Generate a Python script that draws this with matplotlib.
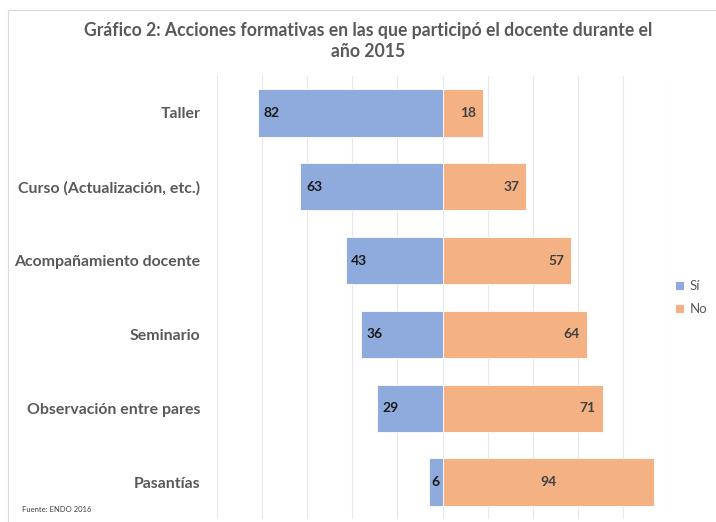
import matplotlib.pyplot as plt
from matplotlib.patches import Rectangle

# datos del grafico
categorias = ["Taller", "Curso (Actualización, etc.)", "Acompañamiento docente",
              "Seminario", "Observación entre pares", "Pasantías"]
si = [82, 63, 43, 36, 29, 6]
no = [18, 37, 57, 64, 71, 94]

azul = "#8FAADC"
naranja = "#F4B183"
gris = "#595959"

plt.rcParams['font.family'] = ['Lato', 'DejaVu Sans']

fig = plt.figure(figsize=(7.16, 5.22), dpi=100)

# marco del area del grafico
fig.patches.append(Rectangle((8 / 716, -0.01), 1.0, (522 - 10) / 522 + 0.01,
                             transform=fig.transFigure, fill=False,
                             edgecolor="#D9D9D9", lw=0.8))

ax = fig.add_axes([217 / 716, 3 / 522, 451 / 716, 443 / 522])

y = list(range(len(categorias)))
neg = [-v for v in si]
ax.barh(y, neg, height=0.64, color=azul, edgecolor="white", lw=0.6, label="Sí", zorder=2)
ax.barh(y, no, height=0.64, color=naranja, edgecolor="white", lw=0.6, label="No", zorder=2)

for i in y:
    # etiqueta Sí dentro de la barra, al extremo izquierdo
    if si[i] > 10:
        ax.text(neg[i] + 2.5, i, str(si[i]), ha="left", va="center",
                fontsize=10, fontweight="bold", color="#1A1A1A", zorder=3)
    else:
        ax.text(neg[i] / 2, i, str(si[i]), ha="center", va="center",
                fontsize=10, fontweight="bold", color="#1A1A1A", zorder=3)
    # etiqueta No
    if no[i] > 90:
        ax.text(no[i] / 2, i, str(no[i]), ha="center", va="center",
                fontsize=10, fontweight="bold", color="#404040", zorder=3)
    else:
        ax.text(no[i] - 3, i, str(no[i]), ha="right", va="center",
                fontsize=10, fontweight="bold", color="#404040", zorder=3)

ax.set_xlim(-100, 100)
ax.set_ylim(len(categorias) - 0.5, -0.5)
ax.set_xticks(range(-100, 101, 20))
ax.set_xticklabels([])
ax.tick_params(axis="x", length=0)
ax.tick_params(axis="y", length=0, pad=12)
ax.set_yticks(y)
ax.set_yticklabels(categorias, fontsize=11.4, fontweight="bold", color=gris)
ax.grid(axis="x", color="#E8E8E8", lw=0.8, zorder=0)
ax.set_axisbelow(True)
for s in ax.spines.values():
    s.set_visible(False)

leg = ax.legend(loc="center left", bbox_to_anchor=(0.995, 0.5), frameon=False,
                fontsize=9.5, handlelength=0.7, handleheight=0.7,
                handletextpad=0.4, labelspacing=0.8, borderaxespad=0.3)
for t in leg.get_texts():
    t.set_color(gris)

fig.text(368 / 716, 1 - 41 / 522,
         "Gráfico 2: Acciones formativas en las que participó el docente durante el\naño 2015",
         ha="center", va="center", fontsize=12.7, fontweight="bold", color=gris,
         linespacing=1.3)

fig.text(22 / 716, 1 - 510 / 522, "Fuente: ENDO 2016", fontsize=5.5,
         color="#404040", va="center")

fig.savefig("out.png", dpi=100)
